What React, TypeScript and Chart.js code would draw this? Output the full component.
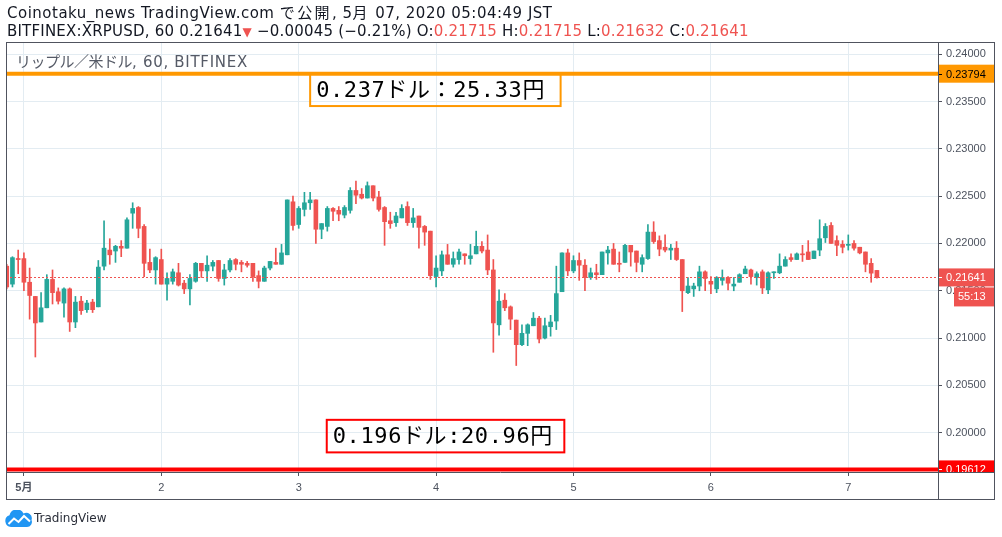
import React, { useEffect, useRef } from "react";
import { Chart, registerables } from "chart.js";

Chart.register(...registerables);

// Hourly candles, hour 0 = 2020-05-01 00:00 (chart time); first candle is hour -3
const FIRST_HOUR = -3;

const openPrices = [
  0.2176, 0.2157, 0.2184, 0.2184, 0.2159, 0.2144, 0.2117, 0.2132, 0.2162, 0.2149,
  0.2137, 0.2152, 0.2117, 0.2139, 0.2130, 0.2138, 0.2133, 0.2176, 0.2193, 0.2192,
  0.2197, 0.2195, 0.2232, 0.2238, 0.2218, 0.2180, 0.2172, 0.2183, 0.2157, 0.2160,
  0.2169, 0.2158, 0.2152, 0.2160, 0.2179, 0.2171, 0.2176, 0.2182, 0.2163, 0.2172,
  0.2183, 0.2180, 0.2179, 0.2179, 0.2166, 0.2160, 0.2174, 0.2180, 0.2178, 0.2188,
  0.2244, 0.2220, 0.2236, 0.2243, 0.2246, 0.2215, 0.2218, 0.2237, 0.2235, 0.2230,
  0.2235, 0.2256, 0.2252, 0.2248, 0.2261, 0.2249, 0.2238, 0.2224, 0.2222, 0.2227,
  0.2239, 0.2222, 0.2229, 0.2218, 0.2213, 0.2165, 0.2171, 0.2188, 0.2178, 0.2183,
  0.2189, 0.2184, 0.2189, 0.2197, 0.2193, 0.2172, 0.2114, 0.2140, 0.2133, 0.2119,
  0.2093, 0.2105, 0.2113, 0.2121, 0.2100, 0.2112, 0.2118, 0.2149, 0.2190, 0.2171,
  0.2182, 0.2177, 0.2164, 0.2169, 0.2167, 0.2190, 0.2194, 0.2179, 0.2180, 0.2198,
  0.2192, 0.2178, 0.2184, 0.2212, 0.2203, 0.2196, 0.2193, 0.2195, 0.2183, 0.2148,
  0.2152, 0.2155, 0.2170, 0.2160, 0.2152, 0.2161, 0.2164, 0.2155, 0.2159, 0.2168,
  0.2172, 0.2164, 0.2170, 0.2151, 0.2169, 0.2169, 0.2176, 0.2185, 0.2183, 0.2189,
  0.2191, 0.2184, 0.2193, 0.2206, 0.2219, 0.2203, 0.2199, 0.2198, 0.2200, 0.2196,
  0.2191, 0.2179, 0.21715,
];

const highPrices = [
  0.2178, 0.2186, 0.2193, 0.2190, 0.2174, 0.2144, 0.2148, 0.2167, 0.2172, 0.2153,
  0.2153, 0.2153, 0.2144, 0.2144, 0.2140, 0.2141, 0.2182, 0.2224, 0.2205, 0.2198,
  0.2203, 0.2227, 0.2243, 0.2239, 0.2220, 0.2194, 0.2186, 0.2194, 0.2169, 0.2173,
  0.2179, 0.2161, 0.2167, 0.2180, 0.2179, 0.2187, 0.2182, 0.2182, 0.2178, 0.2184,
  0.2184, 0.2182, 0.2181, 0.2179, 0.2171, 0.2176, 0.2181, 0.2195, 0.2199, 0.2246,
  0.2250, 0.2239, 0.2254, 0.2254, 0.2246, 0.2221, 0.2239, 0.2238, 0.2239, 0.2240,
  0.2259, 0.2266, 0.2258, 0.2265, 0.2261, 0.2255, 0.2239, 0.2233, 0.2233, 0.2241,
  0.2244, 0.2237, 0.2229, 0.2219, 0.2213, 0.2187, 0.2192, 0.2199, 0.2191, 0.2194,
  0.2189, 0.2199, 0.2213, 0.2202, 0.2209, 0.2183, 0.2151, 0.2147, 0.2134, 0.2119,
  0.2114, 0.2115, 0.2127, 0.2123, 0.2121, 0.2124, 0.2176, 0.2190, 0.2194, 0.2187,
  0.2190, 0.2183, 0.2174, 0.2178, 0.2191, 0.2197, 0.2200, 0.2191, 0.2199, 0.2198,
  0.2192, 0.2188, 0.2220, 0.2223, 0.2208, 0.2209, 0.2199, 0.2202, 0.2183, 0.2164,
  0.2158, 0.2176, 0.2171, 0.2165, 0.2165, 0.2172, 0.2165, 0.2164, 0.2168, 0.2176,
  0.2173, 0.2170, 0.2172, 0.2170, 0.2170, 0.2189, 0.2186, 0.2189, 0.2190, 0.2198,
  0.2203, 0.2192, 0.2225, 0.2221, 0.2222, 0.2208, 0.2203, 0.2209, 0.2203, 0.2196,
  0.2191, 0.2184, 0.21715,
];

const lowPrices = [
  0.2152, 0.2154, 0.2168, 0.2150, 0.2120, 0.2080, 0.2117, 0.2132, 0.2136, 0.2136,
  0.2122, 0.2107, 0.2111, 0.2125, 0.2127, 0.2127, 0.2133, 0.2172, 0.2178, 0.2180,
  0.2186, 0.2195, 0.2216, 0.2206, 0.2165, 0.2169, 0.2157, 0.2157, 0.2140, 0.2157,
  0.2155, 0.2147, 0.2135, 0.2159, 0.2164, 0.2160, 0.2171, 0.2160, 0.2156, 0.2170,
  0.2172, 0.2170, 0.2175, 0.2160, 0.2153, 0.2160, 0.2172, 0.2178, 0.2178, 0.2188,
  0.2214, 0.2216, 0.2229, 0.2236, 0.2200, 0.2205, 0.2213, 0.2224, 0.2224, 0.2227,
  0.2232, 0.2242, 0.2247, 0.2248, 0.2245, 0.2234, 0.2198, 0.2216, 0.2218, 0.2227,
  0.2219, 0.2217, 0.2195, 0.2198, 0.2162, 0.2154, 0.2166, 0.2178, 0.2175, 0.2178,
  0.2178, 0.2178, 0.2189, 0.2190, 0.2167, 0.2085, 0.2103, 0.2129, 0.2109, 0.2071,
  0.2092, 0.2092, 0.2113, 0.2095, 0.2099, 0.2102, 0.2109, 0.2149, 0.2166, 0.2169,
  0.2161, 0.2150, 0.2162, 0.2162, 0.2167, 0.2178, 0.2178, 0.2170, 0.2180, 0.2176,
  0.2170, 0.2170, 0.2183, 0.2200, 0.2187, 0.2191, 0.2183, 0.2182, 0.2128, 0.2147,
  0.2144, 0.2150, 0.2150, 0.2147, 0.2148, 0.2156, 0.2151, 0.2150, 0.2159, 0.2168,
  0.2157, 0.2156, 0.2147, 0.2147, 0.2163, 0.2168, 0.2176, 0.2181, 0.2183, 0.2181,
  0.2183, 0.2184, 0.2187, 0.2201, 0.2200, 0.2187, 0.2190, 0.2193, 0.2193, 0.2189,
  0.2170, 0.2159, 0.21632,
];

const closePrices = [
  0.2154, 0.2185, 0.2183, 0.2159, 0.2145, 0.2116, 0.2132, 0.2162, 0.2148, 0.2139,
  0.2152, 0.2117, 0.2138, 0.2129, 0.2137, 0.2130, 0.2175, 0.2195, 0.2188, 0.2197,
  0.2195, 0.2225, 0.2237, 0.2216, 0.2179, 0.2172, 0.2185, 0.2157, 0.2163, 0.2170,
  0.2156, 0.2152, 0.2163, 0.2179, 0.2171, 0.2177, 0.2180, 0.2163, 0.2172, 0.2182,
  0.2178, 0.2178, 0.2177, 0.2165, 0.2160, 0.2174, 0.2181, 0.2178, 0.2190, 0.2246,
  0.2219, 0.2237, 0.2243, 0.2246, 0.2215, 0.2221, 0.2237, 0.2234, 0.2231, 0.2238,
  0.2256, 0.2251, 0.2248, 0.2261, 0.2248, 0.2236, 0.2223, 0.2221, 0.2229, 0.2237,
  0.2222, 0.2227, 0.2217, 0.2212, 0.2166, 0.2174, 0.2188, 0.2178, 0.2184, 0.2191,
  0.2187, 0.2187, 0.2197, 0.2192, 0.2172, 0.2116, 0.2139, 0.2132, 0.2120, 0.2093,
  0.2105, 0.2114, 0.2121, 0.2099, 0.2113, 0.2117, 0.2147, 0.2190, 0.2171, 0.2182,
  0.2177, 0.2164, 0.2169, 0.2167, 0.2191, 0.2193, 0.2178, 0.2178, 0.2198, 0.2191,
  0.2180, 0.2185, 0.2212, 0.2202, 0.2194, 0.2193, 0.2195, 0.2183, 0.2150, 0.2155,
  0.2155, 0.2170, 0.2163, 0.2157, 0.2164, 0.2164, 0.2158, 0.2157, 0.2167, 0.2173,
  0.2165, 0.2168, 0.2153, 0.2169, 0.2170, 0.2176, 0.2183, 0.2183, 0.2189, 0.2188,
  0.2183, 0.2192, 0.2205, 0.2218, 0.2200, 0.2198, 0.2196, 0.2199, 0.2195, 0.2190,
  0.2178, 0.21686, 0.21641,
];

const dayTickHours = [0, 24, 48, 72, 96, 120, 144];
const dayTickLabels = ["5月", "2", "3", "4", "5", "6", "7"];
const priceTicks = [0.2, 0.205, 0.21, 0.215, 0.22, 0.225, 0.23, 0.235, 0.24];

// visible ranges
const X_MIN = -3.127;
const X_MAX = 159.67;
const Y_MIN = 0.195847;
const Y_MAX = 0.241289;

// horizontal levels drawn by the author
const resistancePrice = 0.23794;
const supportPrice = 0.19612;
const resistanceNote = "0.237ドル：25.33円";
const supportNote = "0.196ドル:20.96円";
// note boxes anchored in chart units (hours / price)
const resistanceBox = { fromHour: 50.0, toHour: 93.75, topPrice: 0.23794, bottomPrice: 0.23452 };
const supportBox = { fromHour: 52.9, toHour: 94.4, topPrice: 0.20136, bottomPrice: 0.19792 };

const countdownText = "55:13";
const symbolText = "BITFINEX:XRPUSD, 60";
const publishText = "Coinotaku_news TradingView.com で公開, 5月 07, 2020 05:04:49 JST";
const paneTitle = "リップル／米ドル, 60, BITFINEX";

const BULL = "#26a69a";
const BEAR = "#ef5350";
const AXIS_TEXT = "#4c525e";
const FRAME = "#50535e";
const GRID = "#e3ecf2";
const AXIS_FONT = '"Liberation Sans", "Noto Sans CJK JP", sans-serif';
const UI_FONT = '"DejaVu Sans", "Noto Sans CJK JP", sans-serif';
const NOTE_FONT = '22px "DejaVu Sans Mono", "Noto Sans CJK JP", monospace';

const candleHours = openPrices.map((_, i) => FIRST_HOUR + i);
const candleColors = openPrices.map((o, i) => (closePrices[i] >= o ? BULL : BEAR));

const n = closePrices.length;
const lastO = openPrices[n - 1];
const lastH = highPrices[n - 1];
const lastL = lowPrices[n - 1];
const lastC = closePrices[n - 1];
const change = lastC - closePrices[n - 2];
const changePct = (change / closePrices[n - 2]) * 100;
const fmt = (v: number) => v.toFixed(5);
const minusFmt = (s: string) => s.replace("-", "−");

const CJK_RE = /([\u3000-\u30ff\u4e00-\u9fff\uff00-\uffef]+)/;
function mixed(text: string, cjkSpacing: string) {
  return text.split(CJK_RE).map((p, i) =>
    i % 2 === 1 ? (
      <span key={i} style={{ letterSpacing: cjkSpacing }}>
        {p}
      </span>
    ) : (
      <React.Fragment key={i}>{p}</React.Fragment>
    )
  );
}

const overlayPlugin = {
  id: "tvOverlay",
  afterDatasetsDraw(chart: any) {
    const { ctx, chartArea: ca } = chart;
    const xs = chart.scales.x;
    const ys = chart.scales.y;
    ctx.save();
    ctx.beginPath();
    ctx.rect(ca.left, ca.top, ca.right - ca.left, ca.bottom - ca.top);
    ctx.clip();

    // last price dotted line
    const yLast = Math.round(ys.getPixelForValue(lastC)) + 0.5;
    ctx.strokeStyle = BEAR;
    ctx.lineWidth = 1;
    ctx.setLineDash([2, 2]);
    ctx.beginPath();
    ctx.moveTo(ca.left, yLast);
    ctx.lineTo(ca.right, yLast);
    ctx.stroke();
    ctx.setLineDash([]);

    const levels = [
      { price: resistancePrice, color: "#ff9800" },
      { price: supportPrice, color: "#ff0000" },
    ];
    for (const lv of levels) {
      const yy = ys.getPixelForValue(lv.price);
      ctx.strokeStyle = lv.color;
      ctx.lineWidth = 4;
      ctx.beginPath();
      ctx.moveTo(ca.left, yy);
      ctx.lineTo(ca.right, yy);
      ctx.stroke();
    }

    const notes = [
      { ...resistanceBox, text: resistanceNote, color: "#ff9800" },
      { ...supportBox, text: supportNote, color: "#ff0000" },
    ];
    for (const nt of notes) {
      const x0 = xs.getPixelForValue(nt.fromHour);
      const x1 = xs.getPixelForValue(nt.toHour);
      const y0 = ys.getPixelForValue(nt.topPrice);
      const y1 = ys.getPixelForValue(nt.bottomPrice);
      ctx.strokeStyle = nt.color;
      ctx.lineWidth = 2;
      ctx.strokeRect(x0, y0, x1 - x0, y1 - y0);
      ctx.fillStyle = "#000";
      ctx.font = NOTE_FONT;
      try {
        (ctx as any).letterSpacing = "0.6px";
      } catch (e) {
        /* ignore */
      }
      ctx.textBaseline = "middle";
      ctx.textAlign = "left";
      ctx.fillText(nt.text, x0 + 6, (y0 + y1) / 2 + 1);
      try {
        (ctx as any).letterSpacing = "0px";
      } catch (e) {
        /* ignore */
      }
    }
    ctx.restore();
  },
  afterDraw(chart: any) {
    const { ctx, chartArea: ca } = chart;
    const xs = chart.scales.x;
    const ys = chart.scales.y;

    ctx.save();
    ctx.beginPath();
    ctx.rect(ca.right, ca.top, ys.right - ca.right, ca.bottom - ca.top);
    ctx.clip();
    const tag = (price: number, bg: string, fg: string, text: string) => {
      const yy = ys.getPixelForValue(price);
      ctx.fillStyle = bg;
      ctx.fillRect(ca.right, yy - 9, ys.right - ca.right - 1, 18);
      ctx.strokeStyle = fg;
      ctx.lineWidth = 1;
      ctx.beginPath();
      ctx.moveTo(ca.right, Math.round(yy) + 0.5);
      ctx.lineTo(ca.right + 4, Math.round(yy) + 0.5);
      ctx.stroke();
      ctx.fillStyle = fg;
      ctx.font = "11px " + AXIS_FONT;
      ctx.textBaseline = "middle";
      ctx.textAlign = "left";
      ctx.fillText(text, ca.right + 8, yy + 1);
      return yy;
    };
    tag(resistancePrice, "#ff9800", "#000", fmt(resistancePrice));
    tag(supportPrice, "#ff0000", "#fff", fmt(supportPrice));
    const yc = tag(lastC, BEAR, "#fff", fmt(lastC));
    ctx.fillStyle = BEAR;
    ctx.fillRect(ca.right + 16, yc + 10, ys.right - ca.right - 17, 19);
    ctx.fillStyle = "#fff";
    ctx.fillText(countdownText, ca.right + 20, yc + 20);
    ctx.restore();

    // frame
    ctx.save();
    ctx.strokeStyle = FRAME;
    ctx.lineWidth = 1;
    const L = Math.round(ca.left) + 0.5;
    const T = Math.round(ca.top) + 0.5;
    const R = Math.round(ys.right) - 0.5;
    const B = Math.round(xs.bottom) - 0.5;
    ctx.strokeRect(L, T, R - L, B - T);
    const pb = Math.round(ca.bottom) + 0.5;
    const pr = Math.round(ca.right) + 0.5;
    ctx.beginPath();
    ctx.moveTo(L, pb);
    ctx.lineTo(R, pb);
    ctx.moveTo(pr, T);
    ctx.lineTo(pr, B);
    ctx.stroke();
    ctx.restore();
  },
};

export default function App() {
  const canvasRef = useRef<HTMLCanvasElement>(null);

  useEffect(() => {
    const chart = new Chart(canvasRef.current as HTMLCanvasElement, {
      type: "bar",
      data: {
        datasets: [
          {
            label: "body",
            data: candleHours.map((h, i) => ({ x: h, y: [openPrices[i], closePrices[i]] })) as any,
            backgroundColor: candleColors,
            barThickness: 4,
            minBarLength: 1,
            grouped: false,
            borderWidth: 0,
          } as any,
          {
            label: "wick",
            data: candleHours.map((h, i) => ({ x: h, y: [lowPrices[i], highPrices[i]] })) as any,
            backgroundColor: candleColors,
            barThickness: 1,
            grouped: false,
            borderWidth: 0,
          } as any,
        ],
      },
      options: {
        animation: false,
        responsive: false,
        devicePixelRatio: 1,
        layout: { padding: { left: 6, top: 42, right: 7, bottom: 37 } },
        plugins: { legend: { display: false }, tooltip: { enabled: false } },
        scales: {
          x: {
            type: "linear",
            min: X_MIN,
            max: X_MAX,
            offset: false,
            afterBuildTicks: (s: any) => {
              s.ticks = dayTickHours.map((v) => ({ value: v }));
            },
            afterFit: (s: any) => {
              s.height = 28;
            },
            grid: { color: GRID, tickColor: FRAME, tickLength: 4, offset: false },
            border: { display: false },
            ticks: {
              autoSkip: false,
              maxRotation: 0,
              padding: 5,
              color: AXIS_TEXT,
              font: (c: any) => ({ family: AXIS_FONT, size: 11, weight: c.index === 0 ? "bold" : "normal" }),
              callback: (_v: any, i: number) => dayTickLabels[i],
            },
          } as any,
          y: {
            type: "linear",
            position: "right",
            min: Y_MIN,
            max: Y_MAX,
            afterBuildTicks: (s: any) => {
              s.ticks = priceTicks.map((v) => ({ value: v }));
            },
            afterFit: (s: any) => {
              s.width = 57;
            },
            grid: { color: GRID, tickColor: FRAME, tickLength: 4 },
            border: { display: false },
            ticks: {
              padding: 4,
              crossAlign: "near",
              color: AXIS_TEXT,
              font: { family: AXIS_FONT, size: 11 },
              callback: (v: any) => Number(v).toFixed(5),
            },
          } as any,
        },
      },
      plugins: [overlayPlugin],
    });
    return () => chart.destroy();
  }, []);

  const red = { color: BEAR };
  return (
    <div
      style={{
        position: "fixed",
        left: 0,
        top: 0,
        width: 1002,
        height: 537,
        background: "#fff",
        overflow: "hidden",
      }}
    >
      <canvas ref={canvasRef} width={1002} height={537} style={{ position: "absolute", left: 0, top: 0 }} />
      <div
        style={{
          position: "absolute",
          left: 7,
          top: 5,
          font: "15px " + UI_FONT,
          lineHeight: "17px",
          letterSpacing: "0.5px",
          color: "#131722",
          whiteSpace: "nowrap",
        }}
      >
        {mixed(publishText, "2.4px")}
      </div>
      <div
        style={{
          position: "absolute",
          left: 7,
          top: 23,
          font: "15px " + UI_FONT,
          lineHeight: "17px",
          letterSpacing: "0.2px",
          color: "#131722",
          whiteSpace: "nowrap",
        }}
      >
        {symbolText} {fmt(lastC)}
        <span style={{ ...red, fontSize: 12 }}>▼</span> {minusFmt(fmt(change))} ({minusFmt(changePct.toFixed(2))}%) O:
        <span style={red}>{fmt(lastO)}</span> H:<span style={red}>{fmt(lastH)}</span> L:
        <span style={red}>{fmt(lastL)}</span> C:<span style={red}>{fmt(lastC)}</span>
      </div>
      <div
        style={{
          position: "absolute",
          left: 16,
          top: 54,
          font: "15px " + UI_FONT,
          lineHeight: "17px",
          letterSpacing: "0.7px",
          color: "#555a66",
          whiteSpace: "nowrap",
        }}
      >
        {mixed(paneTitle, "-0.5px")}
      </div>
      <svg width="28" height="17" viewBox="0 0 28 17" style={{ position: "absolute", left: 5, top: 510 }}>
        <path
          d="M6 17 A6 6 0 0 1 4.5 5.3 A7.5 7.5 0 0 1 18.5 3.5 A5.5 5.5 0 0 1 26.5 10 A5 5 0 0 1 22 17 Z"
          fill="#2196f3"
        />
        <polyline points="3.5,14 9,8.5 13.5,12 19,6 25,11.5" stroke="#fff" strokeWidth="2" fill="none" />
      </svg>
      <div
        style={{
          position: "absolute",
          left: 34,
          top: 510,
          font: "12px " + UI_FONT,
          lineHeight: "16px",
          color: "#2a2e39",
          whiteSpace: "nowrap",
        }}
      >
        TradingView
      </div>
    </div>
  );
}
